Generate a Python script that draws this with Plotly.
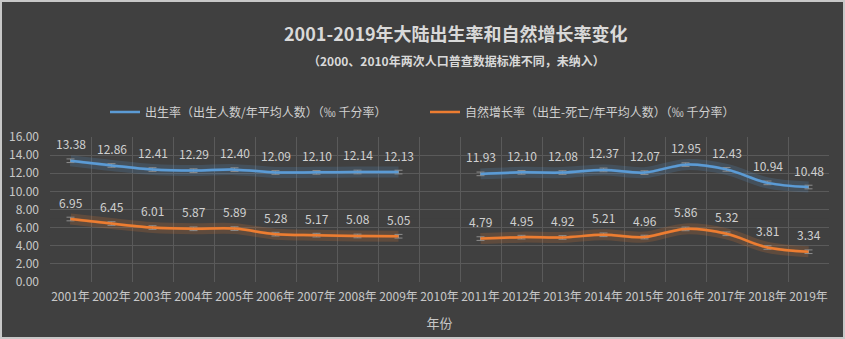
import plotly.graph_objects as go

years = ["2001年", "2002年", "2003年", "2004年", "2005年", "2006年", "2007年", "2008年", "2009年", "2010年",
         "2011年", "2012年", "2013年", "2014年", "2015年", "2016年", "2017年", "2018年", "2019年"]
birth_rate = [13.38, 12.86, 12.41, 12.29, 12.40, 12.09, 12.10, 12.14, 12.13, None,
              11.93, 12.10, 12.08, 12.37, 12.07, 12.95, 12.43, 10.94, 10.48]
natural_growth = [6.95, 6.45, 6.01, 5.87, 5.89, 5.28, 5.17, 5.08, 5.05, None,
                  4.79, 4.95, 4.92, 5.21, 4.96, 5.86, 5.32, 3.81, 3.34]
error_size = 0.2
y_ticks = [0, 2, 4, 6, 8, 10, 12, 14, 16]

name_birth = "出生率（出生人数/年平均人数）（‰ 千分率）"
name_growth = "自然增长率（出生-死亡/年平均人数）（‰ 千分率）"
title_text = "2001-2019年大陆出生率和自然增长率变化"
subtitle_text = "（2000、2010年两次人口普查数据标准不同，未纳入）"

BLUE = "#5B9BD5"
ORANGE = "#ED7D31"
TEXT = "#D0D0D0"
BG = "#404040"
FONT = "Noto Sans CJK SC"

fig = go.Figure()

for vals, col, name, lg in [(birth_rate, BLUE, name_birth, "legend"),
                            (natural_growth, ORANGE, name_growth, "legend2")]:
    # glow
    fig.add_trace(go.Scatter(x=years, y=vals, mode="lines", line=dict(color=col, width=11, shape="spline"),
                             opacity=0.18, hoverinfo="skip", showlegend=False, connectgaps=False))
    fig.add_trace(go.Scatter(x=years, y=vals, mode="lines", line=dict(color=col, width=3, shape="spline"),
                             opacity=0.3, hoverinfo="skip", showlegend=False, connectgaps=False))
    fig.add_trace(go.Scatter(
        x=years, y=vals, mode="lines", name=name, legend=lg,
        line=dict(color=col, width=2.5, shape="spline"), connectgaps=False,
        error_y=dict(type="constant", value=error_size, color="#8C8C8C", thickness=1, width=4),
    ))
    for x, v in zip(years, vals):
        if v is None:
            continue
        fig.add_annotation(x=x, y=v, text=f"{v:.2f}", showarrow=False, yshift=17,
                           font=dict(family=FONT, size=12, color=TEXT))

# fading of the gridlines toward the bottom
for top in [1, 2, 3, 4, 5, 6, 7]:
    fig.add_shape(type="rect", xref="paper", yref="y", x0=-0.001, x1=1.001, y0=-0.3, y1=top,
                  fillcolor=BG, opacity=0.2, line=dict(width=0), layer="between")

fig.add_annotation(xref="paper", yref="paper", x=(456 - 50) / 779, y=(282 - 33) / 145,
                   xanchor="center", yanchor="middle",
                   text=f"<b>{title_text}</b>", showarrow=False,
                   font=dict(family=FONT, size=18, color="#D9D9D9"))
fig.add_annotation(xref="paper", yref="paper", x=(456 - 50) / 779, y=(282 - 60) / 145,
                   xanchor="center", yanchor="middle",
                   text=f"<b>{subtitle_text}</b>", showarrow=False,
                   font=dict(family=FONT, size=12, color="#D9D9D9"))

# outer border
fig.add_shape(type="rect", xref="paper", yref="paper",
              x0=(1 - 50) / 779, x1=(844 - 50) / 779, y0=(282 - 338) / 145, y1=(282 - 1) / 145,
              line=dict(color="#C8C8C8", width=2), fillcolor="rgba(0,0,0,0)", layer="below")

legend_style = dict(orientation="h", xanchor="left", yanchor="middle", y=(282 - 112) / 145,
                    font=dict(family=FONT, size=12, color=TEXT), bgcolor="rgba(0,0,0,0)",
                    itemwidth=30)

fig.update_layout(
    width=845, height=339,
    margin=dict(l=50, r=16, t=137, b=57, autoexpand=False),
    paper_bgcolor=BG, plot_bgcolor=BG,
    font=dict(family=FONT, color=TEXT, size=12),
    showlegend=True,
    legend=dict(x=(105 - 50) / 779, **legend_style),
    legend2=dict(x=(425 - 50) / 779, **legend_style),
    xaxis=dict(type="category", tickson="boundaries", showgrid=True, gridcolor="#5A5A5A", gridwidth=1,
               ticks="", showline=False, zeroline=False, tickangle=0, automargin=False,
               tickfont=dict(family=FONT, size=12, color="#C8C8C8"), ticklabelstandoff=6,
               title=dict(text="年份", font=dict(family=FONT, size=13, color="#C8C8C8"), standoff=15),
               range=[-0.5, 18.5]),
    yaxis=dict(range=[0, 16], tickvals=y_ticks, ticktext=[f"{t:.2f}" for t in y_ticks], automargin=False,
               showgrid=True, gridcolor="#5A5A5A", gridwidth=1, zeroline=False, showline=False,
               tickfont=dict(family=FONT, size=12, color="#C8C8C8"), ticklabelstandoff=10),
)

fig.write_html("out.html")
